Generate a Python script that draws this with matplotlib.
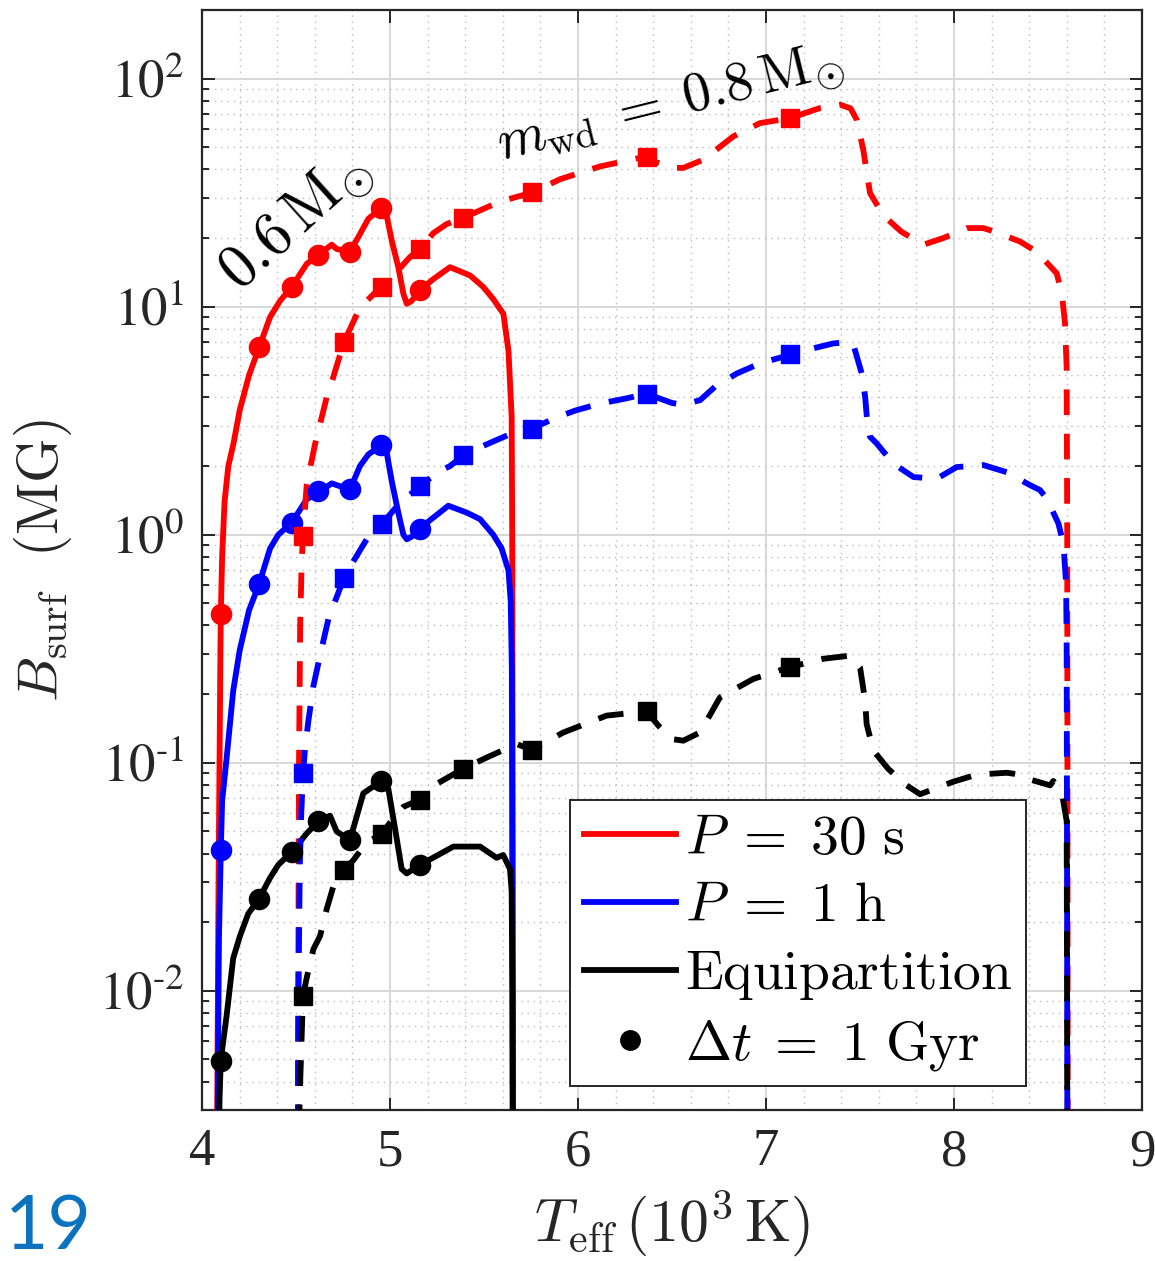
import numpy as np
import matplotlib
matplotlib.use("Agg")
import matplotlib.pyplot as plt
from matplotlib.ticker import LogLocator, MultipleLocator, FuncFormatter, NullFormatter, FixedLocator
from matplotlib.lines import Line2D
from matplotlib.font_manager import FontProperties

# ---------------- data ----------------
# 0.6 Msun tracks (solid)
x_red_06 = [4.078, 4.083, 4.088, 4.094, 4.097, 4.100, 4.107, 4.120, 4.140, 4.167, 4.20, 4.25, 4.303, 4.362,
            4.415, 4.477, 4.557, 4.619, 4.69, 4.716, 4.787, 4.84, 4.885, 4.952, 4.982, 5.009, 5.044,
            5.071, 5.089, 5.115, 5.16, 5.23, 5.319, 5.426, 5.496, 5.549, 5.603, 5.63, 5.647, 5.650,
            5.652, 5.654]
y_red_06 = [0.001, 0.006, 0.03, 0.12, 0.25, 0.45, 0.8, 1.4, 2.0, 2.5, 3.5, 5.0, 6.6, 9.0,
            10.6, 12.2, 15.4, 16.9, 18.7, 17.9, 17.4, 20.8, 24.3, 27.0, 25.1, 19.5, 14.9,
            11.4, 10.3, 10.6, 11.8, 13.2, 14.9, 13.7, 12.2, 10.8, 9.3, 6.4, 3.3, 1.0,
            0.1, 0.001]

x_blue_06 = [4.080, 4.086, 4.090, 4.100, 4.107, 4.131, 4.166, 4.20, 4.25, 4.303, 4.362, 4.406, 4.477,
             4.557, 4.619, 4.69, 4.716, 4.787, 4.84, 4.885, 4.952, 4.982, 5.009, 5.044, 5.071, 5.089,
             5.115, 5.16, 5.248, 5.31, 5.408, 5.479, 5.549, 5.593, 5.63, 5.642, 5.648, 5.652, 5.654]
y_blue_06 = [0.001, 0.006, 0.017, 0.0414, 0.068, 0.105, 0.207, 0.31, 0.466, 0.605, 0.87, 1.0, 1.13,
             1.43, 1.53, 1.68, 1.65, 1.58, 2.0, 2.25, 2.46, 2.3, 1.72, 1.25, 1.0, 0.955,
             0.98, 1.07, 1.22, 1.34, 1.25, 1.17, 1.0, 0.873, 0.698, 0.509, 0.259, 0.01, 0.001]

x_blk_06 = [4.088, 4.093, 4.100, 4.131, 4.166, 4.202, 4.246, 4.303, 4.362, 4.406, 4.477, 4.557, 4.619,
            4.681, 4.716, 4.787, 4.858, 4.952, 4.991, 5.027, 5.062, 5.089, 5.16, 5.248, 5.337, 5.426,
            5.479, 5.567, 5.602, 5.638, 5.647, 5.651, 5.654]
y_blk_06 = [0.001, 0.0033, 0.0050, 0.0078, 0.0139, 0.0174, 0.0218, 0.0253, 0.0313, 0.0357, 0.0406,
            0.049, 0.0553, 0.0586, 0.050, 0.0458, 0.0735, 0.083, 0.0769, 0.0513, 0.0342, 0.0327,
            0.0357, 0.0391, 0.0429, 0.0429, 0.0429, 0.0383, 0.0394, 0.0342, 0.0273, 0.01, 0.001]

# 0.8 Msun tracks (dashed)
x_red_08 = [4.508, 4.512, 4.516, 4.522, 4.530, 4.537, 4.557, 4.601, 4.663, 4.698, 4.755, 4.84, 4.929,
            4.955, 5.035, 5.106, 5.16, 5.23, 5.30, 5.388, 5.585, 5.754, 5.904, 6.117, 6.365, 6.418,
            6.50, 6.56, 6.667, 6.826, 6.968, 7.128, 7.287, 7.394, 7.45, 7.482, 7.517, 7.553, 7.624,
            7.72, 7.837, 7.944, 8.068, 8.156, 8.21, 8.351, 8.44, 8.546, 8.573, 8.59, 8.599, 8.602,
            8.604, 8.605]
y_red_08 = [0.001, 0.01, 0.1, 0.4, 0.75, 0.99, 1.66, 2.49, 4.0, 4.9, 7.0, 9.9, 11.7,
            12.2, 14.2, 16.5, 17.9, 21.0, 23.0, 24.5, 28.9, 31.6, 36.2, 41.2, 45.6, 42.9,
            40.6, 40.6, 44.1, 55.8, 63.8, 67.1, 74.3, 76.9, 74.0, 66.1, 48.8, 31.5, 25.1,
            21.3, 18.7, 20.0, 22.1, 22.1, 21.4, 19.3, 17.4, 14.0, 11.5, 8.45, 5.4, 1.0,
            0.01, 0.001]

x_blue_08 = [4.508, 4.513, 4.520, 4.528, 4.537, 4.548, 4.565, 4.592, 4.628, 4.672, 4.716, 4.755, 4.805,
             4.876, 4.955, 5.053, 5.16, 5.248, 5.319, 5.388, 5.514, 5.656, 5.754, 5.887, 5.984, 6.117,
             6.25, 6.365, 6.418, 6.50, 6.56, 6.649, 6.729, 6.844, 6.968, 7.136, 7.216, 7.358, 7.447,
             7.468, 7.509, 7.527, 7.539, 7.553, 7.589, 7.677, 7.784, 7.908, 8.014, 8.156, 8.28, 8.404,
             8.457, 8.493, 8.555, 8.582, 8.596, 8.599, 8.601, 8.603]
y_blue_08 = [0.001, 0.01, 0.035, 0.06, 0.09, 0.115, 0.151, 0.216, 0.296, 0.426, 0.532, 0.645, 0.764,
             0.955, 1.11, 1.38, 1.63, 1.87, 2.0, 2.22, 2.49, 2.8, 2.92, 3.27, 3.5, 3.76,
             3.95, 4.15, 4.0, 3.78, 3.72, 3.89, 4.46, 5.09, 5.64, 6.18, 6.46, 6.9, 7.0,
             6.67, 5.09, 4.03, 3.08, 2.69, 2.51, 2.05, 1.79, 1.76, 1.98, 2.02, 1.88, 1.65,
             1.57, 1.44, 1.12, 0.91, 0.61, 0.32, 0.04, 0.001]

x_blk_08 = [4.515, 4.519, 4.528, 4.537, 4.557, 4.592, 4.628, 4.663, 4.698, 4.755, 4.805, 4.876, 4.955,
            5.018, 5.071, 5.16, 5.23, 5.388, 5.514, 5.674, 5.754, 5.922, 6.152, 6.365, 6.427, 6.50,
            6.56, 6.649, 6.755, 6.933, 7.128, 7.305, 7.447, 7.50, 7.527, 7.535, 7.571, 7.651, 7.748,
            7.819, 7.996, 8.12, 8.28, 8.351, 8.378, 8.511, 8.528, 8.573, 8.599, 8.601, 8.603]
y_blk_08 = [0.001, 0.0033, 0.0056, 0.0095, 0.0114, 0.0152, 0.0174, 0.0228, 0.0286, 0.0338, 0.0374,
            0.0448, 0.0485, 0.0574, 0.0641, 0.069, 0.0792, 0.094, 0.1054, 0.1208, 0.114, 0.1358,
            0.161, 0.168, 0.1456, 0.127, 0.125, 0.1358, 0.1936, 0.2333, 0.263, 0.2858, 0.295,
            0.262, 0.187, 0.148, 0.113, 0.0938, 0.0796, 0.0728, 0.0826, 0.0887, 0.0904, 0.0887,
            0.0857, 0.0796, 0.0832, 0.0741, 0.0556, 0.01, 0.001]

# 1 Gyr markers
x_mark_06 = [4.100, 4.303, 4.477, 4.619, 4.787, 4.952, 5.16]
y_mark_red_06 = [0.45, 6.65, 12.2, 16.9, 17.4, 27.0, 11.8]
y_mark_blue_06 = [0.0414, 0.605, 1.12, 1.55, 1.59, 2.47, 1.06]
y_mark_blk_06 = [0.0049, 0.0253, 0.0406, 0.0555, 0.0458, 0.083, 0.0356]

x_mark_08 = [4.537, 4.755, 4.955, 5.16, 5.388, 5.754, 6.365, 7.13]
y_mark_red_08 = [0.99, 7.0, 12.2, 17.9, 24.5, 31.8, 45.5, 67.5]
y_mark_blue_08 = [0.09, 0.645, 1.11, 1.63, 2.23, 2.92, 4.15, 6.18]
y_mark_blk_08 = [0.0095, 0.0338, 0.0485, 0.069, 0.094, 0.114, 0.168, 0.263]

x_ticks = [4, 5, 6, 7, 8, 9]
x_tick_labels = ["4", "5", "6", "7", "8", "9"]
y_ticks = [1e-2, 1e-1, 1e0, 1e1, 1e2]

legend_labels = [r"$P\;=\;30\ \mathrm{s}$", r"$P\;=\;1\ \mathrm{h}$",
                 r"$\mathrm{Equipartition}$", r"$\Delta t\;=\;1\ \mathrm{Gyr}$"]

# ---------------- style ----------------
plt.rcParams["font.family"] = ["Liberation Serif", "DejaVu Serif"]
plt.rcParams["mathtext.fontset"] = "stix"
AX = "#262626"

fig = plt.figure(figsize=(11.55, 12.61), dpi=100)
ax = fig.add_axes([0.1749, 0.1197, 0.8139, 0.8724])

lw = 4.2
dash = (0, (4.4, 3.2))
colors = ["#ff0000", "#0000ff", "#000000"]

for xs, ys, c in [(x_red_06, y_red_06, colors[0]), (x_blue_06, y_blue_06, colors[1]),
                  (x_blk_06, y_blk_06, colors[2])]:
    ax.plot(xs, ys, color=c, lw=lw, solid_joinstyle="round", zorder=3)
for xs, ys, c in [(x_red_08, y_red_08, colors[0]), (x_blue_08, y_blue_08, colors[1]),
                  (x_blk_08, y_blk_08, colors[2])]:
    ax.plot(xs, ys, color=c, lw=lw, ls=dash, dash_capstyle="butt", zorder=3)

for ys, c in [(y_mark_red_06, colors[0]), (y_mark_blue_06, colors[1]), (y_mark_blk_06, colors[2])]:
    ax.plot(x_mark_06, ys, ls="none", marker="o", ms=14.5, color=c, zorder=4)
for ys, c in [(y_mark_red_08, colors[0]), (y_mark_blue_08, colors[1]), (y_mark_blk_08, colors[2])]:
    ax.plot(x_mark_08, ys, ls="none", marker="s", ms=12.5, color=c, zorder=4)

ax.set_yscale("log")
ax.set_xlim(4, 9)
ax.set_ylim(3e-3, 200)


def ylab(v, p):
    e = int(round(np.log10(v)))
    if e < 0:
        return r"$10^{\text{-}%d}$" % (-e)
    return r"$10^{%d}$" % e


ax.xaxis.set_major_locator(FixedLocator(x_ticks))
ax.set_xticklabels(x_tick_labels)
ax.xaxis.set_minor_locator(MultipleLocator(0.2))
ax.yaxis.set_major_locator(FixedLocator(y_ticks))
ax.yaxis.set_major_formatter(FuncFormatter(ylab))
ax.yaxis.set_minor_locator(LogLocator(base=10, subs=np.arange(2, 10)))
ax.yaxis.set_minor_formatter(NullFormatter())

ax.tick_params(which="both", direction="in", top=True, right=True, colors=AX, width=1.4)
ax.tick_params(which="major", length=9, labelsize=38, pad=13)
ax.tick_params(axis="y", which="minor", length=5)
ax.tick_params(axis="x", which="minor", length=0)
for s in ax.spines.values():
    s.set_color(AX)
    s.set_linewidth(1.6)

ax.set_axisbelow(True)
ax.grid(True, which="major", color="#d6d6d6", lw=1.3, ls="-")
ax.grid(True, which="minor", color="#bdbdbd", lw=1.0, ls=(0, (1, 3.5)))

ax.set_xlabel(r"$T_{\rm eff}\,(10^3\,\mathrm{K})$", fontsize=43, math_fontfamily="cm", color=AX)
ax.set_ylabel(r"$B_{\rm surf}\ \ (\mathrm{MG})$", fontsize=41, math_fontfamily="cm", color=AX)
ax.xaxis.set_label_coords(0.5, -0.071)
ax.yaxis.set_label_coords(-0.136, 0.5)

ax.text(4.50, 23.5, r"$0.6\,\mathrm{M}_{\odot}$", fontsize=44, math_fontfamily="cm",
        rotation=42, ha="center", va="center", rotation_mode="anchor", zorder=5)
ax.text(6.49, 77, r"$m_{\rm wd}\;=\;0.8\,\mathrm{M}_{\odot}$", fontsize=40, math_fontfamily="cm",
        rotation=14, ha="center", va="center", rotation_mode="anchor", zorder=5)

handles = [Line2D([], [], color=colors[0], lw=lw),
           Line2D([], [], color=colors[1], lw=lw),
           Line2D([], [], color=colors[2], lw=lw),
           Line2D([], [], color="k", ls="none", marker="o", ms=14)]
leg = ax.legend(handles, legend_labels, loc="upper left", bbox_to_anchor=(0.3915, 0.2818),
                borderaxespad=0, prop=FontProperties(size=40, math_fontfamily="cm"),
                handlelength=1.65, handletextpad=0.17, labelspacing=0.28, borderpad=0.25,
                frameon=True, fancybox=False, framealpha=1, edgecolor=AX)
leg.get_frame().set_linewidth(1.4)

fig.text(0.004, -0.001, "19", color="#0a72bf", fontsize=54, family=["Lato", "DejaVu Sans"],
         va="bottom", ha="left")

fig.savefig("out.png", dpi=100)
